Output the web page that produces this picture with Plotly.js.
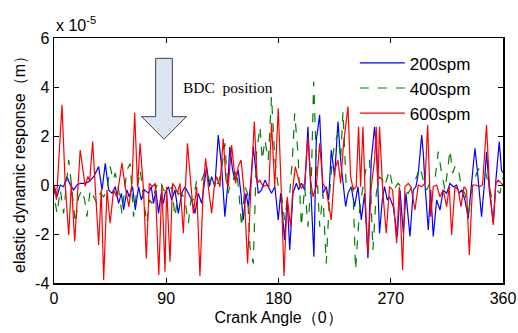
<!DOCTYPE html>
<html>
<head>
<meta charset="utf-8">
<script src="https://cdn.plot.ly/plotly-3.0.1.min.js"></script>
<style>html,body{margin:0;padding:0;background:#fff;}#chart{width:518px;height:333px;}</style>
</head>
<body>
<div id="chart"></div>
<script>
// values in units of 1e-5 m
var angle200 = [0,2.4,5,7.7,10.4,13.1,15.8,18.4,21.1,25.1,28.3,31.8,35.8,38.5,41.1,43.8,46.5,49.1,51.8,54,55.8,58.5,60.3,63,65.2,67.8,70,72.6,75.8,78,79.8,81.7,83.8,86,87.8,89,91.7,94.3,97,99.7,102.4,105,107.7,110.4,113,115.7,118.4,120.5,122.4,124.5,126.4,129,131.7,134.4,137,139.2,141,143.2,145,147.7,149.9,151.7,153.9,155.8,157.9,159.8,161.6,163.8,166.4,169.1,171.8,174.4,177.1,179.8,181.7,184.9,187,189,191.6,194.3,196.2,198.3,201,203.6,206.3,208.4,210.3,213,215.6,218.3,220.2,222.3,225,227.7,229.8,231.7,233.8,235.7,238.3,241,243.7,246.4,249,251.7,254.4,257,258.9,261,263.2,265,267.2,269,272,275.3,277.4,280.1,282.2,285.4,288.1,290.2,292.1,294.8,296.1,297.4,300.1,302,304.1,306.8,309.5,312.1,314.8,317.5,320.1,322.8,324.9,326.8,329.5,332.1,334.8,337.5,339.4,341,342.8,344.9,346.8,349,352.2,354.3,357,358.8,360];
var resp200 = [0,-0.48,0,-0.07,0.34,0,-0.2,0,0.07,0.07,0.14,0.34,0.75,-0.2,0.88,-0.2,-0.34,-0.07,-0.75,-0.34,-1.02,-0.2,-0.48,-0.07,-1.02,-0.07,-0.61,-0.2,-0.34,-0.07,-0.75,-0.2,-1.16,-0.34,-0.75,-0.34,-0.07,-0.61,-0.2,-1.16,-0.34,-0.07,-0.34,-0.61,-1.16,-0.34,-0.75,0.07,0.75,-0.07,0.34,-0.07,2.04,0.75,-1.29,-0.07,1.56,0.61,0.2,0.61,-0.34,-1.43,-0.34,-0.88,0.2,1.56,0.61,-0.34,-0.2,0.2,-0.07,-0.34,-0.07,-1.43,-0.34,-2.24,-0.61,-2.65,-0.34,0.07,-0.2,0.07,-0.2,2.38,-0.61,-2.93,1.84,2.86,-0.34,-0.07,-0.61,1.43,0.34,2.59,1.02,0.07,-0.88,-0.34,-0.07,-0.88,-0.07,-1.43,-0.34,-2.99,1.02,2.38,1.02,-1.97,-0.61,-0.07,-0.61,-0.48,-0.88,-2.1,-0.2,-1.97,-0.34,-2.1,-0.2,-0.07,0.48,2.04,1.29,0.07,-1.84,-0.2,-2.1,-0.61,-1.02,-0.2,-0.34,0.07,-0.07,0,-0.34,-0.2,-0.61,-1.36,-0.07,1.5,0.61,-0.2,-1.29,-0.07,1.36,-0.2,-1.56,0.2,1.77,0.61,0.5];

var angle400 = [0,1.1,2.4,5.1,7.7,10.4,11.8,14.4,17.1,19.8,22.4,24.6,26.4,29.1,31.8,34.4,37.1,39.8,42.5,45.1,47.3,49.1,51.8,54.5,56.6,58.5,61.1,63.8,66.5,69.2,71.8,74.5,76.6,78.5,81.2,83.8,86,87.8,91.7,94.3,97,99.7,102.4,105,107.7,109.8,111.7,114.4,115.7,118.4,120.5,122.4,124.5,126.4,129,131.7,134.4,137,139.7,141.9,143.7,146.4,148.3,150.4,153.1,155.2,157.1,159.8,162.4,165.1,167,169.1,171.8,174.4,177.1,179.8,182.3,184.9,187,189,191.1,193,195.6,198.3,201,203.6,206.3,208.2,210.3,213,215.6,218.3,221,223.1,225,227.7,229.8,231.7,234.3,237,239.7,241.8,243.7,245,247.7,250.4,253,255.7,258.4,261,263.2,265,269,272,276,280.1,284,288.1,290.8,293.4,296.1,298.8,301.4,305.4,308.1,310.8,313.5,315.3,317.5,319.6,321.5,324.1,326.8,329.5,332.1,334.8,338.8,341.5,345.5,348.2,350.8,354.8,357.5,360];
var resp400 = [0,-0.75,-1.16,-0.2,-1.16,0.48,1.02,-0.2,-1.56,-0.48,-0.2,-0.61,-1.29,-0.2,-0.48,-0.75,-0.34,-0.48,-0.2,0.75,0.2,0.48,-0.2,-1.16,-0.2,0.61,0.88,-1.29,-0.2,0.61,-0.61,-1.56,-0.61,-0.75,-0.2,0.2,0.07,-0.2,-0.34,-0.07,-1.29,-0.34,-0.34,-0.61,-1.56,-0.61,-0.61,0.2,0.34,0.2,0.48,0.61,0.2,-0.07,0.07,0.07,0.61,1.7,-0.34,0.2,0.2,0.61,-0.34,-1.7,-0.07,-0.34,-2.52,-3.2,1.29,2.38,1.02,1.84,1.02,3.61,1.02,-0.07,-0.34,-1.43,-0.61,-0.34,1.02,2.93,1.29,-1.7,-0.07,-1.7,0.2,4.22,1.02,-1.7,-0.34,-3.2,-0.34,1.02,1.7,2.11,1.02,2.99,-0.07,-0.2,-0.07,-3.47,-1.97,-1.02,-0.07,0.75,1.02,-2.65,-0.34,0.34,0.2,-0.07,0.61,-0.2,0.07,-0.2,-0.34,0.07,0.34,0.75,0.2,-0.2,0.07,0.2,1.36,0.48,-0.2,0.48,1.43,0.48,0.75,0.75,-0.2,-0.34,-1.36,-0.2,0.48,0.75,0.61,0.07,-0.48,-0.2,-0.34,0.3];

var angle600 = [0,2,6.4,9,11.8,13.9,16.6,21,25,27.2,28.6,31,33,35.8,37.9,39.8,42.5,45,47.8,50.5,54.5,57,60,62.5,64.7,67,69,71.8,74,76.4,79,81.2,84,86.5,89,90.3,93,95,97,99,101,103.7,107,110,111.7,114.4,117,119.7,121.6,123.7,126.4,128.5,130.4,133,135.7,137.9,139.7,142.4,144.3,145.6,147.7,150,152.5,155.2,157.9,160.6,163,165,167.8,170.4,172.3,174.4,177,179.8,182.3,184.4,187,189.7,191.6,193.5,196.2,198.3,201,203.6,205.8,207.6,210.3,213,215.6,218.3,222.3,225,227.7,229.8,232.2,235.7,237.8,240,242.3,244.2,245.8,247.7,249.6,251.7,254.4,257,258.4,259.7,261,263.7,266.4,269,271.5,274.7,276.9,279.5,281.4,284,286.2,289.4,292.1,294.8,297.4,299.6,302,304.1,306.8,309.5,312.1,314.8,316.9,318.8,321.5,324.1,326.3,328.7,330.8,333,335.6,338.3,341,343.6,346.8,349,352.2,354.3,356.2,358.8,360];
var resp600 = [0,-0.6,3.27,0,-2.04,0.1,-2.3,1.43,-0.05,0.35,0.15,1.77,0,-2.45,-0.2,-3.88,-0.2,-1.56,-0.2,-0.5,0.9,-0.05,-0.88,0.07,2.95,-0.07,1.7,-0.2,-3.0,0.07,-0.07,0.07,-3.67,0,-3.54,-0.07,-3.13,0.07,-0.07,-0.34,0.07,-1.97,1.7,-0.07,-1.16,-0.07,-3.71,-0.07,1.09,-0.07,-1.16,-0.07,0.34,-0.07,1.9,0.2,-0.07,1.63,0.61,0.07,0.75,1.02,-0.34,-3.2,-0.07,2.59,0.07,0.2,-0.07,0,-0.07,2.52,-0.07,3.13,-0.34,-3.71,-0.48,-1.7,-0.07,0.75,0.2,-0.14,0.07,1.97,0.2,-0.48,-0.07,1.7,0.07,-0.2,-1.43,0.61,1.02,0.07,1.7,3.2,0.34,-0.2,-0.07,2.38,-0.07,2.38,-0.61,-2.79,-0.07,1.02,2.38,-0.07,2.38,-0.34,-1.97,-0.07,-0.2,-2.38,-0.07,-3.47,-0.07,0.07,-0.07,-1.02,0,-0.07,0.07,2.45,-1.29,-0.07,0,-0.48,-0.2,-0.88,-0.07,-2.04,-0.07,-0.2,-0.88,-0.07,-0.2,-2.86,0,0,-0.07,0,2.45,0.07,-1.63,0.07,0.2,0.07,0];

var seriesNames = ['200spm','400spm','600spm'];
var xTicks = [0,90,180,270,360];
var yTicks = [-4,-2,0,2,4,6];

var traces = [
  {x: angle200, y: resp200, name: seriesNames[0], type: 'scatter', mode: 'lines',
   line: {color: '#0000ff', width: 1.2}},
  {x: angle400, y: resp400, name: seriesNames[1], type: 'scatter', mode: 'lines',
   line: {color: '#008000', width: 1.2, dash: 'dash'}},
  {x: angle600, y: resp600, name: seriesNames[2], type: 'scatter', mode: 'lines',
   line: {color: '#ff0000', width: 1.2}}
];

var axisCommon = {
  showline: true, linecolor: '#000', linewidth: 1.5, mirror: 'ticks',
  ticks: 'inside', ticklen: 5, tickcolor: '#000', tickwidth: 1,
  showgrid: false, zeroline: false,
  tickfont: {family: 'Liberation Sans, Arial, sans-serif', size: 16, color: '#000'}
};

var layout = {
  width: 518, height: 333,
  margin: {l: 54, r: 15, t: 38, b: 50},
  paper_bgcolor: '#fff', plot_bgcolor: '#fff',
  showlegend: true,
  legend: {x: 0.67, y: 0.97, xanchor: 'left', yanchor: 'top', bgcolor: 'rgba(0,0,0,0)',
           borderwidth: 0, font: {family: 'Liberation Sans, Arial, sans-serif', size: 17, color: '#000'},
           itemwidth: 45, tracegroupgap: 0},
  xaxis: Object.assign({}, axisCommon, {range: [0, 360], tickvals: xTicks, ticktext: xTicks.map(String),
    title: {text: 'Crank Angle（0）', font: {family: 'Liberation Sans, Arial, sans-serif', size: 16, color: '#000'}, standoff: 6}}),
  yaxis: Object.assign({}, axisCommon, {range: [-4, 6], tickvals: yTicks, ticktext: yTicks.map(String),
    title: {text: 'elastic dynamic response（m）', font: {family: 'Liberation Sans, Arial, sans-serif', size: 16, color: '#000'}, standoff: 5}}),
  shapes: [{
    type: 'path', xref: 'x', yref: 'y',
    path: 'M 81.5 5.17 L 94.9 5.17 L 94.9 2.79 L 106.2 2.79 L 88.2 1.87 L 70.2 2.79 L 81.5 2.79 Z',
    fillcolor: '#dce6f2', line: {color: '#404040', width: 1}
  }],
  annotations: [
    {xref: 'paper', yref: 'paper', x: 0, y: 1, xanchor: 'left', yanchor: 'bottom', yshift: 2, showarrow: false,
     text: 'x 10<sup>-5</sup>', font: {family: 'Liberation Sans, Arial, sans-serif', size: 16, color: '#000'}},
    {xref: 'x', yref: 'y', x: 102, y: 3.98, xanchor: 'left', yanchor: 'middle', showarrow: false,
     text: 'BDC\u00a0\u00a0position', font: {family: 'Liberation Serif, Times New Roman, serif', size: 15.5, color: '#000'}}
  ]
};

Plotly.newPlot('chart', traces, layout, {staticPlot: true, displayModeBar: false});
</script>
</body>
</html>
